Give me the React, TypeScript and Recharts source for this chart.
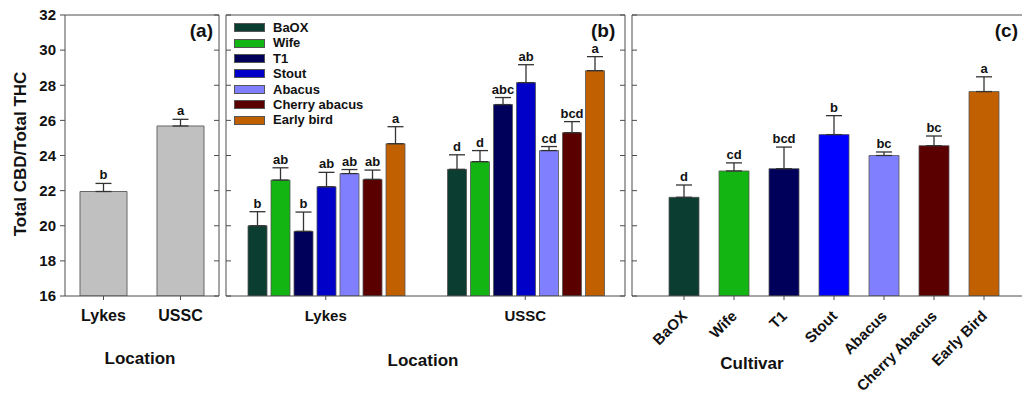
import { BarChart, Bar, XAxis, YAxis, ErrorBar, LabelList, Cell, Legend } from 'recharts'

const yTicks = [16, 18, 20, 22, 24, 26, 28, 30, 32]

const locations = ['Lykes', 'USSC']
const locationMeans = [21.95, 25.68]
const locationErr = [0.46, 0.38]
const locationLetters = ['b', 'a']

const cultivars = ['BaOX', 'Wife', 'T1', 'Stout', 'Abacus', 'Cherry abacus', 'Early bird']
const cultivarTicks = ['BaOX', 'Wife', 'T1', 'Stout', 'Abacus', 'Cherry Abacus', 'Early Bird']
const colorsB = ['#0b3d30', '#12b512', '#00005a', '#0000c8', '#8080ff', '#5a0000', '#c06000']
const colorsC = ['#0b3d30', '#12b512', '#00005a', '#0000ff', '#8080ff', '#5a0000', '#c06000']

const lykesMeans = [20.0, 22.6, 19.68, 22.22, 22.97, 22.64, 24.67]
const lykesErr = [0.8, 0.7, 1.1, 0.82, 0.23, 0.53, 0.97]
const lykesLetters = ['b', 'ab', 'b', 'ab', 'ab', 'ab', 'a']
const usscMeans = [23.21, 23.65, 26.9, 28.15, 24.28, 25.3, 28.83]
const usscErr = [0.83, 0.63, 0.4, 1.02, 0.23, 0.63, 0.8]
const usscLetters = ['d', 'd', 'abc', 'ab', 'cd', 'bcd', 'a']

const cultivarMeans = [21.62, 23.12, 23.25, 25.19, 24.0, 24.56, 27.64]
const cultivarErr = [0.7, 0.46, 1.23, 1.08, 0.2, 0.55, 0.84]
const cultivarLetters = ['d', 'cd', 'bcd', 'b', 'bc', 'bc', 'a']

const FRAME = '#4d4d4d'
const FONT = '"Liberation Sans", Arial, sans-serif'
const TXT = '#111'

const dataA = locations.map((name, i) => ({ name, mean: locationMeans[i], err: [0, locationErr[i]] }))

const dataB = locations.map((name, r) => {
  const means = r === 0 ? lykesMeans : usscMeans
  const errs = r === 0 ? lykesErr : usscErr
  const row: Record<string, any> = { name }
  cultivars.forEach((_, i) => {
    row['s' + i] = means[i]
    row['e' + i] = [0, errs[i]]
  })
  return row
})

const dataC = cultivarTicks.map((name, i) => ({ name, mean: cultivarMeans[i], err: [0, cultivarErr[i]] }))

// letter sits just above the error-bar cap; px/unit taken from the bar itself
const letterLabel = (means: number[], errs: number[], letters: string[]) => (props: any) => {
  const vb = props.viewBox || props
  const { x, y, width, height } = vb
  const i = props.index
  const px = height / (means[i] - 16)
  const top = y - errs[i] * px
  return (
    <text x={x + width / 2} y={top - 4} textAnchor="middle" fontSize={13} fontWeight="bold" fontFamily={FONT} fill={TXT}>
      {letters[i]}
    </text>
  )
}

const RotTick = ({ x, y, payload }: any) => (
  <text transform={`translate(${x + 4},${y + 13}) rotate(-45)`} textAnchor="end" fontSize={15} fontWeight="bold" fontFamily={FONT} fill={TXT}>
    {payload.value}
  </text>
)

const LegendBox = () => (
  <div style={{ fontFamily: FONT, fontSize: 13, fontWeight: 'bold', color: TXT }}>
    {cultivars.map((c, i) => (
      <div key={c} style={{ display: 'flex', alignItems: 'center', height: 15.4, lineHeight: '15.4px' }}>
        <span style={{ display: 'inline-block', width: 29, height: 7, background: colorsB[i], border: '1px solid #555', marginRight: 8 }} />
        {c}
      </div>
    ))}
  </div>
)

const tickX = { fill: TXT, fontSize: 15, fontWeight: 'bold', fontFamily: FONT }
const noTick = () => null

export default function App() {
  return (
    <div style={{ position: 'absolute', left: 0, top: 0, width: 1022, height: 393, overflow: 'hidden', background: '#fff', fontFamily: FONT }}>
      {/* (a) by location */}
      <div style={{ position: 'absolute', left: 0, top: 0 }}>
        <BarChart width={222} height={393} data={dataA} margin={{ top: 14, right: 0, bottom: 57, left: 0 }} barCategoryGap={15}>
          <XAxis xAxisId="top" orientation="top" dataKey="name" height={1} tick={false} tickLine={false} stroke={FRAME} />
          <XAxis dataKey="name" height={40} tickSize={4} tickMargin={10} stroke={FRAME} tick={{ ...tickX, fontSize: 16 }} />
          <YAxis domain={[16, 32]} ticks={yTicks} interval={0} width={65} tickSize={5} tickMargin={4} stroke={FRAME} allowDataOverflow tick={tickX} />
          <YAxis yAxisId="r" orientation="right" domain={[16, 32]} ticks={yTicks} interval={0} width={3} tickSize={-5} stroke={FRAME} allowDataOverflow tick={noTick} />
          <Bar dataKey="mean" fill="#c0c0c0" stroke="#666" strokeWidth={1} isAnimationActive={false}>
            <ErrorBar dataKey="err" width={8} stroke="#333" strokeWidth={1.3} direction="y" />
            <LabelList dataKey="mean" content={letterLabel(locationMeans, locationErr, locationLetters)} />
          </Bar>
        </BarChart>
      </div>

      {/* (b) location x cultivar */}
      <div style={{ position: 'absolute', left: 223, top: 0 }}>
        <BarChart width={405} height={393} data={dataB} margin={{ top: 14, right: 0, bottom: 57, left: 0 }} barCategoryGap={22} barGap={4}>
          <XAxis xAxisId="top" orientation="top" dataKey="name" height={1} tick={false} tickLine={false} stroke={FRAME} />
          <XAxis dataKey="name" height={40} tickSize={4} tickMargin={10} stroke={FRAME} tick={tickX} />
          <YAxis domain={[16, 32]} ticks={yTicks} interval={0} width={3} tickSize={-5} stroke={FRAME} allowDataOverflow tick={noTick} />
          <YAxis yAxisId="r" orientation="right" domain={[16, 32]} ticks={yTicks} interval={0} width={3} tickSize={-5} stroke={FRAME} allowDataOverflow tick={noTick} />
          <Legend layout="vertical" align="center" verticalAlign="middle" content={LegendBox} wrapperStyle={{ left: 11, top: 20, width: 'auto' }} />
          {cultivars.map((c, i) => (
            <Bar key={c} name={c} dataKey={'s' + i} fill={colorsB[i]} stroke="#555" strokeWidth={0.8} isAnimationActive={false}>
              <ErrorBar dataKey={'e' + i} width={8} stroke="#333" strokeWidth={1.3} direction="y" />
              <LabelList
                dataKey={'s' + i}
                content={letterLabel([lykesMeans[i], usscMeans[i]], [lykesErr[i], usscErr[i]], [lykesLetters[i], usscLetters[i]])}
              />
            </Bar>
          ))}
        </BarChart>
      </div>

      {/* (c) by cultivar */}
      <div style={{ position: 'absolute', left: 628, top: 0 }}>
        <BarChart width={411} height={393} data={dataC} margin={{ top: 14, right: 0, bottom: 57, left: 0 }} barCategoryGap={10}>
          <XAxis xAxisId="top" orientation="top" dataKey="name" height={1} tick={false} tickLine={false} stroke={FRAME} />
          <XAxis dataKey="name" height={40} tickSize={4} tickMargin={4} stroke={FRAME} interval={0} padding={{ left: 27, right: 27 }} tick={<RotTick />} />
          <YAxis domain={[16, 32]} ticks={yTicks} interval={0} width={4} tickSize={-5} stroke={FRAME} allowDataOverflow tick={noTick} />
          <YAxis yAxisId="r" orientation="right" domain={[16, 32]} ticks={yTicks} interval={0} width={3} tickSize={-5} stroke={FRAME} allowDataOverflow tick={noTick} />
          <Bar dataKey="mean" stroke="#555" strokeWidth={0.8} isAnimationActive={false}>
            {dataC.map((d, i) => (
              <Cell key={d.name} fill={colorsC[i]} />
            ))}
            <ErrorBar dataKey="err" width={8} stroke="#333" strokeWidth={1.3} direction="y" />
            <LabelList dataKey="mean" content={letterLabel(cultivarMeans, cultivarErr, cultivarLetters)} />
          </Bar>
        </BarChart>
      </div>

      {/* titles */}
      <svg width={1022} height={393} style={{ position: 'absolute', left: 0, top: 0, pointerEvents: 'none' }} fontFamily={FONT} fontWeight="bold" fill={TXT}>
        <text x={213} y={37} textAnchor="end" fontSize={19}>(a)</text>
        <text x={591} y={37} fontSize={19}>(b)</text>
        <text x={1018} y={37} textAnchor="end" fontSize={19}>(c)</text>
        <text x={140} y={364} textAnchor="middle" fontSize={17}>Location</text>
        <text x={423} y={366} textAnchor="middle" fontSize={17}>Location</text>
        <text x={752} y={369} textAnchor="middle" fontSize={17}>Cultivar</text>
        <text transform="translate(26,154) rotate(-90)" textAnchor="middle" fontSize={17}>Total CBD/Total THC</text>
      </svg>
    </div>
  )
}
